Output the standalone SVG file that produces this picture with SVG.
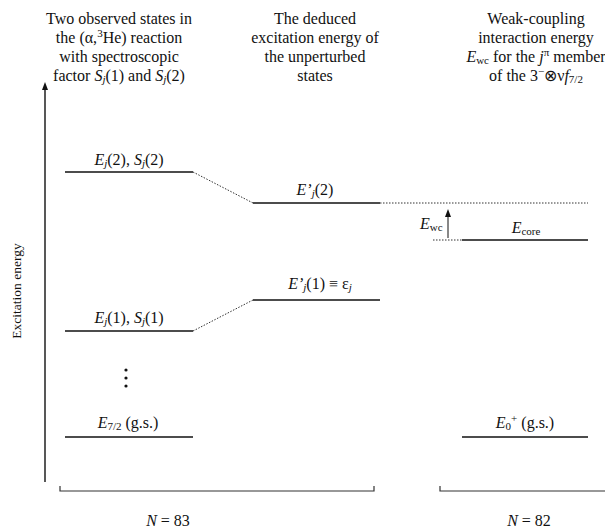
<svg xmlns="http://www.w3.org/2000/svg" width="605" height="531" viewBox="0 0 605 531">
<style>
text{font-family:"Liberation Serif","Times New Roman",serif;font-size:16px;fill:#111;}
.c{text-anchor:middle;}
.i{font-style:italic;}
.s{font-size:11px;}
.lvl{stroke:#111;stroke-width:1.4;fill:none;}
.dot{stroke:#333;stroke-width:1;stroke-dasharray:1.5 1.5;fill:none;}
.br{stroke:#333;stroke-width:1.2;fill:none;}
</style>
<defs>
<marker id="ah" markerWidth="8" markerHeight="8" refX="4" refY="4" orient="auto" markerUnits="userSpaceOnUse">
<path d="M0,1 L8,4 L0,7 Z" fill="#111"/>
</marker>
</defs>
<rect width="605" height="531" fill="#fff"/>
<g id="headers">
<text class="c" x="119" y="24">Two observed states in</text>
<text class="c" x="119" y="43">the (α,<tspan class="s" dy="-6">3</tspan><tspan dy="6">He) reaction</tspan></text>
<text class="c" x="119" y="62">with spectroscopic</text>
<text class="c" x="119" y="81">factor <tspan class="i">S</tspan><tspan class="i s" dy="2">j</tspan><tspan dy="-2">(1) and </tspan><tspan class="i">S</tspan><tspan class="i s" dy="2">j</tspan><tspan dy="-2">(2)</tspan></text>
<text class="c" x="315" y="24">The deduced</text>
<text class="c" x="315" y="43">excitation energy of</text>
<text class="c" x="315" y="62">the unperturbed</text>
<text class="c" x="315" y="81">states</text>
<text class="c" x="536" y="24">Weak-coupling</text>
<text class="c" x="536" y="43">interaction energy</text>
<text class="c" x="536" y="62"><tspan class="i">E</tspan><tspan class="s" dy="2">wc</tspan><tspan dy="-2"> for the </tspan><tspan class="i">j</tspan><tspan class="s" dy="-6">π</tspan><tspan dy="6"> member</tspan></text>
<text class="c" x="536" y="81">of the 3<tspan class="s" dy="-6">−</tspan><tspan dy="6">⊗ν</tspan><tspan class="i">f</tspan><tspan class="s" dy="2">7/2</tspan></text>
</g>
<g id="axis">
<line x1="45" y1="482" x2="45" y2="86" stroke="#111" stroke-width="1.4" marker-end="url(#ah)"/>
<text class="c" style="font-size:13.5px" transform="translate(21,291) rotate(-90)">Excitation energy</text>
</g>
<g id="connectors">
<line class="dot" x1="193" y1="172" x2="253" y2="203"/>
<line class="dot" x1="193" y1="331" x2="253" y2="300"/>
<line class="dot" x1="380" y1="203" x2="588" y2="203"/>
<line class="dot" x1="433" y1="240" x2="462" y2="240"/>
<line x1="448" y1="238" x2="448" y2="213" stroke="#111" stroke-width="1" marker-end="url(#ah)"/>
</g>
<g id="Ej2">
<line class="lvl" x1="65" y1="172" x2="193" y2="172"/>
<text class="c" x="129" y="165"><tspan class="i">E</tspan><tspan class="i s" dy="2">j</tspan><tspan dy="-2">(2), </tspan><tspan class="i">S</tspan><tspan class="i s" dy="2">j</tspan><tspan dy="-2">(2)</tspan></text>
</g>
<g id="Epj2">
<line class="lvl" x1="253" y1="203" x2="380" y2="203"/>
<text class="c" x="315" y="195"><tspan class="i">E’</tspan><tspan class="i s" dy="2">j</tspan><tspan dy="-2">(2)</tspan></text>
</g>
<g id="Ecore">
<line class="lvl" x1="462" y1="240" x2="588" y2="240"/>
<text class="c" x="526" y="233"><tspan class="i">E</tspan><tspan class="s" dy="2">core</tspan></text>
<text x="420" y="229"><tspan class="i">E</tspan><tspan class="s" dy="2">wc</tspan></text>
</g>
<g id="Epj1">
<line class="lvl" x1="253" y1="300" x2="380" y2="300"/>
<text class="c" x="320" y="289"><tspan class="i">E’</tspan><tspan class="i s" dy="2">j</tspan><tspan dy="-2">(1) ≡ ε</tspan><tspan class="i s" dy="2">j</tspan></text>
</g>
<g id="Ej1">
<line class="lvl" x1="65" y1="331" x2="193" y2="331"/>
<text class="c" x="129" y="323"><tspan class="i">E</tspan><tspan class="i s" dy="2">j</tspan><tspan dy="-2">(1), </tspan><tspan class="i">S</tspan><tspan class="i s" dy="2">j</tspan><tspan dy="-2">(1)</tspan></text>
</g>
<g id="dots">
<circle cx="126" cy="370" r="1.6" fill="#111"/>
<circle cx="126" cy="378" r="1.6" fill="#111"/>
<circle cx="126" cy="386" r="1.6" fill="#111"/>
</g>
<g id="E72">
<line class="lvl" x1="65" y1="437" x2="193" y2="437"/>
<text class="c" x="128" y="428"><tspan class="i">E</tspan><tspan class="s" dy="2">7/2</tspan><tspan dy="-2"> (g.s.)</tspan></text>
</g>
<g id="E0">
<line class="lvl" x1="462" y1="437" x2="588" y2="437"/>
<text class="c" x="525" y="428"><tspan class="i">E</tspan><tspan class="s" dy="2">0</tspan><tspan class="s" dy="-8">+</tspan><tspan dy="6"> (g.s.)</tspan></text>
</g>
<g id="N83">
<path class="br" d="M60,486 V491 H374 V486"/>
<text class="c" x="168" y="526"><tspan class="i">N</tspan> = 83</text>
</g>
<g id="N82">
<path class="br" d="M440,486 V491 H605"/>
<text class="c" x="529" y="526"><tspan class="i">N</tspan> = 82</text>
</g>
</svg>
